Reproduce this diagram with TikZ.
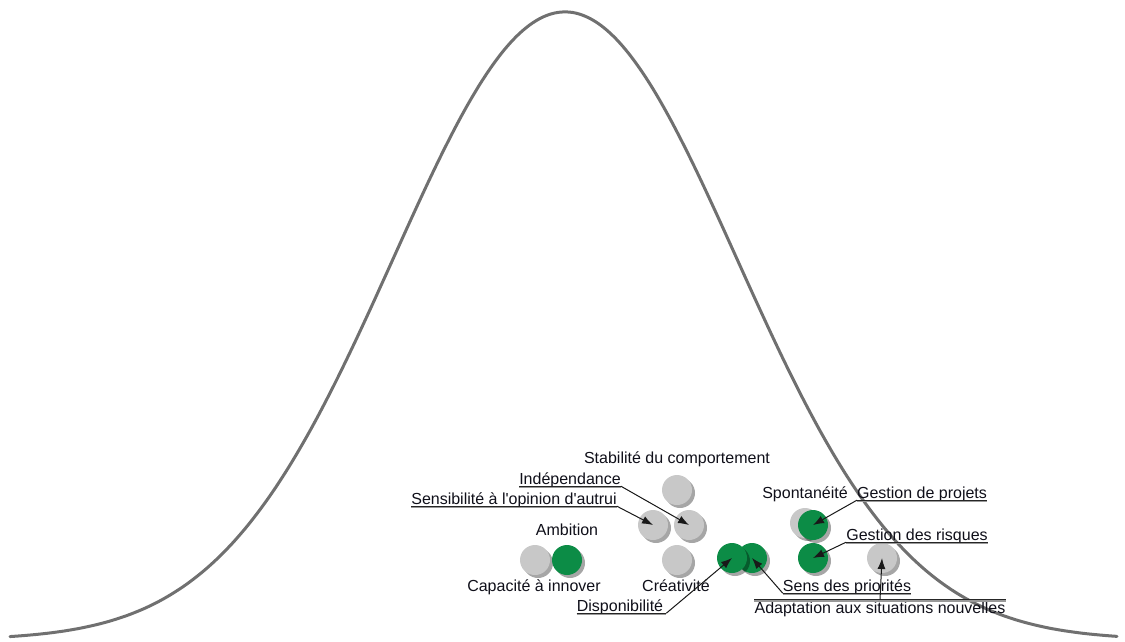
\documentclass[tikz,border=0pt]{standalone}
\usepackage{fontspec}
\setmainfont{Liberation Sans}[Ligatures=TeXOff]
\usetikzlibrary{arrows.meta,shadows}
\definecolor{curvegray}{RGB}{112,112,112}
\definecolor{dotgray}{RGB}{200,200,200}
\definecolor{dotgreen}{RGB}{12,140,70}
\definecolor{labeltext}{RGB}{15,15,25}
\tikzset{
  graydot/.style={circle, fill=dotgray, minimum size=30pt, inner sep=0pt,
                  drop shadow={shadow xshift=3pt, shadow yshift=-3pt,
                               fill=black, opacity=0.35}},
  greendot/.style={circle, fill=dotgreen, minimum size=30pt, inner sep=0pt,
                   drop shadow={shadow xshift=3pt, shadow yshift=-3pt,
                                fill=black, opacity=0.35}},
  tag/.style={text=labeltext, font=\fontsize{16}{19}\selectfont,
              inner sep=0pt, text height=12pt, text depth=2pt},
  underline/.style={draw=black!85, line width=1.2pt,
                    preaction={draw=black!40, line width=2pt,
                               transform canvas={yshift=-1.2pt}}},
  leader/.style={draw=black!90, line width=1pt,
                 -{Latex[length=11pt,width=8pt]}}
}
\begin{document}
\begin{tikzpicture}[x=1pt, y=-1pt]
  \useasboundingbox (0,0) rectangle (1125,641);

  % bell curve
  \draw[curvegray, line width=3pt, line cap=round, smooth]
    plot[domain=10:1117, samples=180]
    (\x, {640 - 628*exp(-0.5*((\x-565)/172)^2)});

  % dots
  \node[graydot]  (cap)   at (535,560) {};
  \node[greendot] (amb)   at (567,560) {};
  \node[graydot]  (cre)   at (677,560) {};
  \node[graydot]  (stab)  at (677,490) {};
  \node[graydot]  (sens)  at (653,525) {};
  \node[graydot]  (ind)   at (689,525) {};
  \node[greendot] (prio)  at (752,558) {};
  \node[greendot] (disp)  at (732,558) {};
  \node[graydot]  (spont) at (805,523) {};
  \node[greendot] (proj)  at (813,525) {};
  \node[greendot] (risk)  at (813,558) {};
  \node[graydot]  (adapt) at (882,558) {};

  % plain labels
  \node[tag] (stabL)  at (677,458) {Stabilité du comportement};
  \node[tag] (ambL)   at (567,530) {Ambition};
  \node[tag] (capL)   at (534,586) {Capacité à innover};
  \node[tag] (creL)   at (676,586) {Créativité};
  \node[tag] (spontL) at (805,493) {Spontanéité};

  % labels with leaders
  \node[tag] (indL)  at (570,479) {Indépendance};
  \node[tag] (sensL) at (514,499) {Sensibilité à l'opinion d'autrui};
  \node[tag] (dispL) at (620,606) {Disponibilité};
  \node[tag] (projL) at (922,493) {Gestion de projets};
  \node[tag] (riskL) at (917,535) {Gestion des risques};
  \node[tag] (prioL) at (847,586) {Sens des priorités};
  \node[tag] (adaptL) at (880,608) {Adaptation aux situations nouvelles};

  \path[underline] (indL.south west) -- (indL.south east);
  \path[underline] (sensL.south west) -- (sensL.south east);
  \path[underline] (dispL.south west) -- ([xshift=3pt]dispL.south east);
  \path[underline] (projL.south west) -- (projL.south east);
  \path[underline] (riskL.south west) -- (riskL.south east);
  \path[underline] (prioL.south west) -- (prioL.south east);
  \path[underline] ([yshift=1pt]adaptL.north west) -- ([yshift=1pt]adaptL.north east);

  \draw[leader] (indL.south east) -- (ind.center);
  \draw[leader] (sensL.south east) -- (sens.center);
  \draw[leader] ([xshift=3pt]dispL.south east) -- (disp.center);
  \draw[leader] (projL.south west) -- (proj.center);
  \draw[leader] (riskL.south west) -- (risk.center);
  \draw[leader] (prioL.south west) -- (prio.center);
  \draw[leader] ([yshift=1pt]adaptL.north) -- (adapt.center);
\end{tikzpicture}
\end{document}
